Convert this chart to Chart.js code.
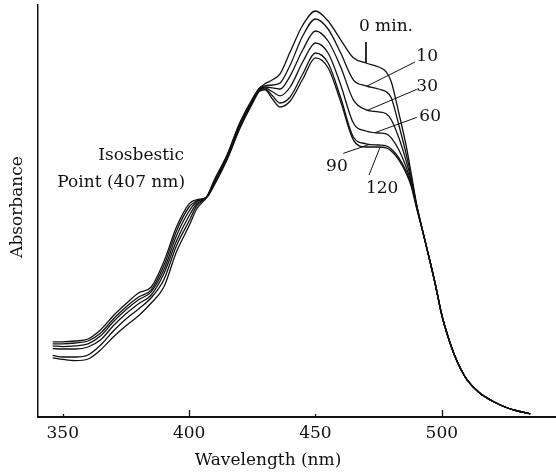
<!DOCTYPE html>
<html>
<head>
<meta charset="utf-8">
<script src="https://cdn.jsdelivr.net/npm/chart.js@4.4.1/dist/chart.umd.min.js"></script>
<style>
html,body{margin:0;padding:0;background:#fff;}
canvas{display:block;}
</style>
</head>
<body>
<canvas id="c" width="556" height="475"></canvas>
<script>
// Wavelength grid (nm)
const wavelengths = [346,350,355,360,365,370,375,380,385,390,395,400,403,407,410,415,420,425,428,430,433,436,440,445,450,455,460,465,470,475,478,480,483,486,488,490,492.5,495,497.5,500,502.5,505,507.5,510,515,520,525,530,535];

// Absorbance (arbitrary units), one array per irradiation time
const abs0min   = [0.148,0.144,0.141,0.145,0.168,0.200,0.228,0.253,0.285,0.325,0.413,0.478,0.520,0.550,0.593,0.655,0.735,0.795,0.823,0.833,0.843,0.858,0.913,0.980,1.015,0.990,0.943,0.898,0.885,0.875,0.863,0.838,0.760,0.675,0.605,0.533,0.463,0.398,0.330,0.255,0.200,0.155,0.120,0.093,0.060,0.040,0.025,0.015,0.008];
const abs10min  = [0.154,0.150,0.150,0.155,0.180,0.215,0.245,0.270,0.298,0.343,0.428,0.490,0.528,0.550,0.590,0.653,0.733,0.793,0.823,0.828,0.830,0.835,0.880,0.953,0.995,0.970,0.910,0.843,0.828,0.820,0.813,0.798,0.730,0.655,0.598,0.530,0.463,0.398,0.330,0.255,0.200,0.155,0.120,0.093,0.060,0.040,0.025,0.015,0.008];
const abs30min  = [0.171,0.170,0.170,0.175,0.193,0.228,0.258,0.283,0.305,0.358,0.440,0.503,0.533,0.550,0.588,0.650,0.730,0.790,0.820,0.825,0.823,0.820,0.853,0.918,0.965,0.940,0.875,0.793,0.768,0.763,0.758,0.743,0.698,0.638,0.590,0.530,0.463,0.398,0.330,0.255,0.200,0.155,0.120,0.093,0.060,0.040,0.025,0.015,0.008];
const abs60min  = [0.178,0.176,0.178,0.183,0.203,0.238,0.268,0.293,0.313,0.368,0.453,0.515,0.538,0.550,0.585,0.648,0.725,0.788,0.818,0.823,0.813,0.803,0.825,0.888,0.935,0.910,0.830,0.735,0.715,0.710,0.708,0.698,0.668,0.623,0.583,0.528,0.463,0.398,0.330,0.255,0.200,0.155,0.120,0.093,0.060,0.040,0.025,0.015,0.008];
const abs90min  = [0.183,0.183,0.185,0.190,0.210,0.245,0.275,0.300,0.318,0.378,0.465,0.525,0.540,0.550,0.583,0.645,0.723,0.785,0.818,0.820,0.803,0.785,0.800,0.858,0.910,0.885,0.798,0.700,0.683,0.680,0.678,0.670,0.648,0.613,0.578,0.525,0.463,0.398,0.330,0.255,0.200,0.155,0.120,0.093,0.060,0.040,0.025,0.015,0.008];
const abs120min = [0.188,0.188,0.190,0.195,0.218,0.253,0.283,0.310,0.325,0.388,0.475,0.533,0.543,0.550,0.580,0.643,0.720,0.783,0.815,0.818,0.795,0.775,0.790,0.845,0.898,0.873,0.788,0.693,0.675,0.675,0.673,0.665,0.643,0.608,0.575,0.523,0.463,0.398,0.330,0.255,0.200,0.155,0.120,0.093,0.060,0.040,0.025,0.015,0.008];

const seriesNames = ['0 min.','10','30','60','90','120'];
const seriesValues = [abs0min, abs10min, abs30min, abs60min, abs90min, abs120min];

// Axis tick labels (nm)
const xTickValues = [350,400,450,500];
const xTickMajor  = [false,true,false,true];

// Curve labels: text, anchor (nm, absorbance), leader line start/end (nm, absorbance)
const curveLabelText   = ['0 min.','10','30','60','90','120'];
const curveLabelNm     = [477.9,494.2,494.2,495.4,458.5,476.4];
const curveLabelAbs    = [0.975,0.900,0.825,0.750,0.625,0.570];
const leaderFromNm     = [470.0,489.4,490.1,490.1,461.0,471.2];
const leaderFromAbs    = [0.9375,0.8875,0.819,0.749,0.659,0.605];
const leaderToNm       = [470.0,470.3,470.3,473.6,471.6,475.6];
const leaderToAbs      = [0.885,0.827,0.766,0.711,0.682,0.675];

// Isosbestic point note (right edge anchored)
const isoText  = ['Isosbestic','Point (407 nm)'];
const isoNm    = [398.0,398.4];
const isoAbs   = [0.6525,0.585];

const FONT = '"DejaVu Serif", "Liberation Serif", serif';
const INK = '#111';

const datasets = seriesValues.map((vals, i) => ({
  label: seriesNames[i],
  data: wavelengths.map((w, j) => ({x: w, y: vals[j]})),
  borderColor: INK,
  borderWidth: 1.3,
  pointRadius: 0,
  fill: false,
  cubicInterpolationMode: 'monotone'
}));
curveLabelText.forEach((t, i) => {
  datasets.push({
    label: 'leader ' + t,
    data: [{x: leaderFromNm[i], y: leaderFromAbs[i]}, {x: leaderToNm[i], y: leaderToAbs[i]}],
    borderColor: INK,
    borderWidth: 1,
    pointRadius: 0,
    fill: false,
    tension: 0
  });
});

const annotate = {
  id: 'annotate',
  afterDraw(chart) {
    const {ctx, scales: {x, y}, chartArea} = chart;
    ctx.save();
    ctx.fillStyle = INK;
    ctx.strokeStyle = INK;
    // inward tick marks
    ctx.lineWidth = 1.3;
    xTickValues.forEach((v, i) => {
      const px = Math.round(x.getPixelForValue(v)) + 0.5;
      const len = xTickMajor[i] ? 7 : 3;
      ctx.beginPath();
      ctx.moveTo(px, chartArea.bottom);
      ctx.lineTo(px, chartArea.bottom - len);
      ctx.stroke();
    });
    ctx.font = '17px ' + FONT;
    ctx.textBaseline = 'middle';
    // tick labels
    ctx.textAlign = 'center';
    xTickValues.forEach(v => {
      ctx.fillText(String(v), x.getPixelForValue(v), 434);
    });
    // axis titles
    ctx.fillText('Wavelength (nm)', 268, 461);
    ctx.save();
    ctx.translate(18, 207);
    ctx.rotate(-Math.PI / 2);
    ctx.fillText('Absorbance', 0, 0);
    ctx.restore();
    // curve labels
    curveLabelText.forEach((t, i) => {
      ctx.fillText(t, x.getPixelForValue(curveLabelNm[i]), y.getPixelForValue(curveLabelAbs[i]));
    });
    // isosbestic note
    ctx.textAlign = 'right';
    isoText.forEach((t, i) => {
      ctx.fillText(t, x.getPixelForValue(isoNm[i]), y.getPixelForValue(isoAbs[i]));
    });
    ctx.restore();
  }
};

new Chart(document.getElementById('c'), {
  type: 'line',
  data: {datasets},
  options: {
    responsive: false,
    animation: false,
    devicePixelRatio: 1,
    layout: {padding: {top: 5, left: 0, right: 0, bottom: 0}},
    plugins: {legend: {display: false}, tooltip: {enabled: false}},
    scales: {
      x: {
        type: 'linear',
        min: 340.2,
        max: 545.2,
        grid: {display: false},
        border: {display: true, color: INK, width: 2},
        ticks: {display: false},
        afterFit: s => { s.height = 58; }
      },
      y: {
        type: 'linear',
        min: 0,
        max: 1.03,
        grid: {display: false},
        border: {display: true, color: INK, width: 1.5},
        ticks: {display: false},
        afterFit: s => { s.width = 38; }
      }
    }
  },
  plugins: [annotate]
});
</script>
</body>
</html>
